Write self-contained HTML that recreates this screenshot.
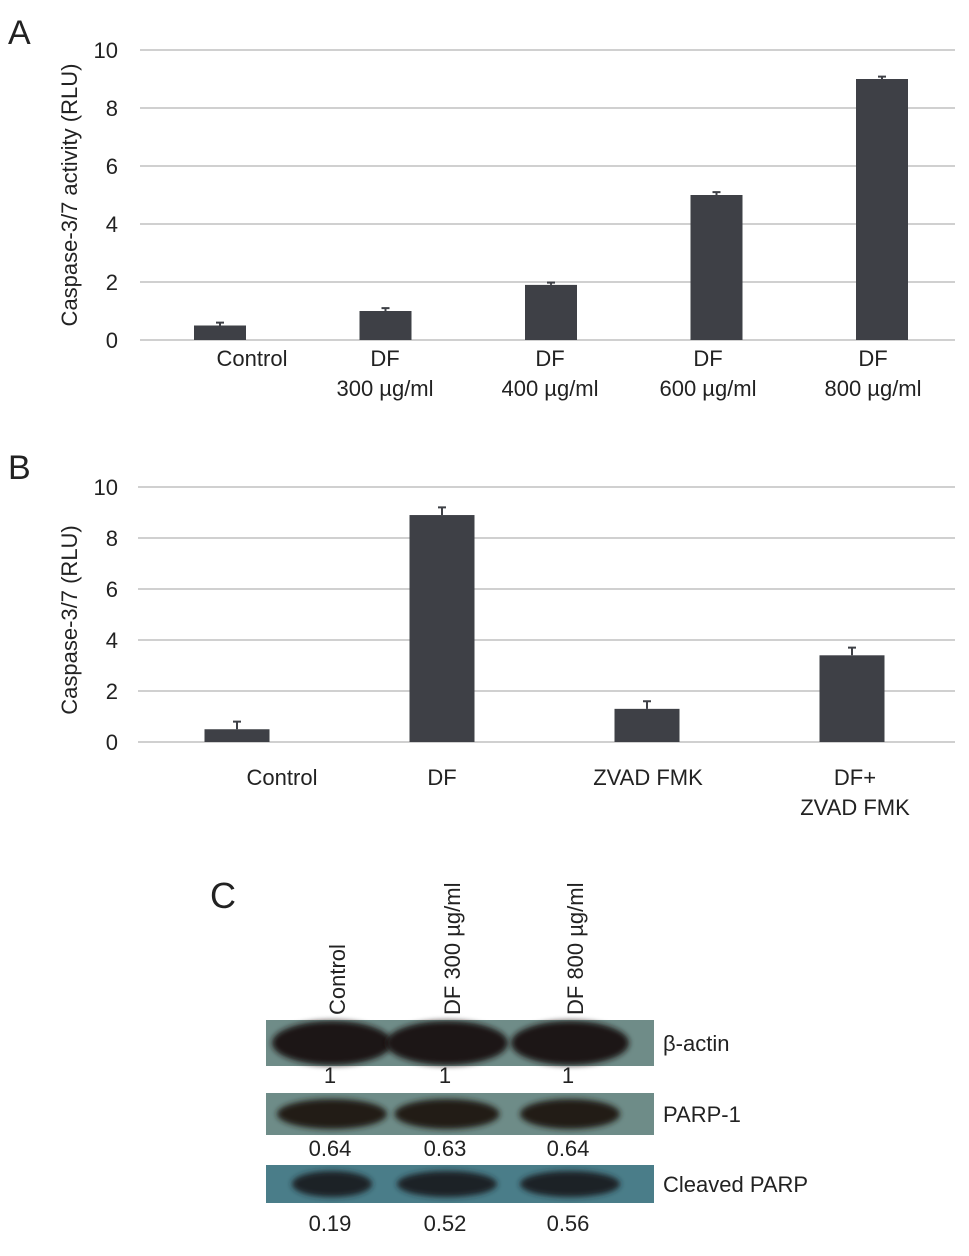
<!DOCTYPE html>
<html><head><meta charset="utf-8"><style>
body{margin:0;background:#fff;}
svg text{font-family:"Liberation Sans",sans-serif;fill:#222;}
</style></head><body>
<svg id="fig" width="969" height="1251" xmlns="http://www.w3.org/2000/svg">
<defs>
<filter id="blur2" x="-20%" y="-50%" width="140%" height="200%"><feGaussianBlur stdDeviation="3"/></filter>
</defs>
<g id="panelA"></g>
<g id="panelB"></g>
<g id="panelC"></g>
</svg>
<script>
const NS="http://www.w3.org/2000/svg";
function mk(parent,tag,attrs,txt){const e=document.createElementNS(NS,tag);for(const k in attrs)e.setAttribute(k,attrs[k]);if(txt!==undefined)e.textContent=txt;parent.appendChild(e);return e;}

// Panel A data
const aCategories=["Control","DF 300 µg/ml","DF 400 µg/ml","DF 600 µg/ml","DF 800 µg/ml"];
const aValues=[0.5,1.0,1.9,5.0,9.0];
const aErrors=[0.1,0.1,0.08,0.1,0.08];
const aTicks=[0,2,4,6,8,10];
// Panel B data
const bCategories=["Control","DF","ZVAD FMK","DF+ ZVAD FMK"];
const bValues=[0.5,8.9,1.3,3.4];
const bErrors=[0.3,0.3,0.3,0.3];
const bTicks=[0,2,4,6,8,10];
// Panel C data
const cLanes=["Control","DF 300 µg/ml","DF 800 µg/ml"];
const cActin=[1,1,1];
const cParp=[0.64,0.63,0.64];
const cCleaved=[0.19,0.52,0.56];

function chart(g,o){
  const y=v=>o.y0-v*(o.y0-o.y10)/10;
  o.ticks.forEach(t=>{
    const l=mk(g,'line',{x1:o.gx0,x2:o.gx1,y1:y(t),y2:y(t),stroke:'#d0d0d0','stroke-width':2});
    
    
    const tx=mk(g,'text',{x:o.tickX,y:y(t)+8,'text-anchor':'end','font-size':22},String(t));
    
    
  });
  o.values.forEach((v,i)=>{
    const cx=o.bx0+i*o.bstep;
    const r=mk(g,'rect',{x:cx-o.bw/2,y:y(v),width:o.bw,height:y(0)-y(v),fill:'#3e4046'});
    
    
    const e=mk(g,'path',{d:`M${cx},${y(v)} V${y(v+o.errors[i])} M${cx-4},${y(v+o.errors[i])} H${cx+4}`,stroke:'#3e4046','stroke-width':2,fill:'none'});
    
    
  });
  const t=mk(g,'text',{transform:`translate(${o.titleX},${o.titleY}) rotate(-90)`,'text-anchor':'middle','font-size':22},o.title);
  
  
  o.labels.forEach(lb=>{
    lb.lines.forEach((s,j)=>{
      const x=mk(g,'text',{x:lb.x,y:o.labY+j*30,'text-anchor':'middle','font-size':22},s);
      
      
    });
  });
  const L=mk(g,'text',{x:o.letterX,y:o.letterY,'font-size':34},o.letter);
  
  
}
chart(document.getElementById('panelA'),{y0:340,y10:50,gx0:140,gx1:955,ticks:aTicks,values:aValues,errors:aErrors,
 bx0:220,bstep:165.5,bw:52,tickX:118,title:'Caspase-3/7 activity (RLU)',titleX:77,titleY:195,labY:366,
 labels:[{x:252,lines:['Control']},{x:385,lines:['DF','300 µg/ml']},{x:550,lines:['DF','400 µg/ml']},{x:708,lines:['DF','600 µg/ml']},{x:873,lines:['DF','800 µg/ml']}],
 letter:'A',letterX:8,letterY:44});
chart(document.getElementById('panelB'),{y0:742,y10:487,gx0:138,gx1:955,ticks:bTicks,values:bValues,errors:bErrors,
 bx0:237,bstep:205,bw:65,tickX:118,title:'Caspase-3/7 (RLU)',titleX:77,titleY:620,labY:785,
 labels:[{x:282,lines:['Control']},{x:442,lines:['DF']},{x:648,lines:['ZVAD FMK']},{x:855,lines:['DF+','ZVAD FMK']}],
 letter:'B',letterX:8,letterY:479});

// Panel C
const gc=document.getElementById('panelC');
const laneX=[337,452,575];
const C=mk(gc,'text',{x:210,y:908,'font-size':36},'C');


cLanes.forEach((s,i)=>{
  const t=mk(gc,'text',{transform:`translate(${laneX[i]+8},1015) rotate(-90)`,'font-size':22},s);
  
  
});
const strips=[
 {name:'β-actin',y:1020,h:46,bg:'#6f8c88',band:'#1e1612',bh:44,vals:cActin,ly:1083,bw:[120,122,118]},
 {name:'PARP-1',y:1093,h:42,bg:'#6e8c88',band:'#231a16',bh:30,vals:cParp,ly:1156,bw:[110,105,100]},
 {name:'Cleaved PARP',y:1165,h:38,bg:'#4a7d89',band:'#1f2226',bh:26,vals:cCleaved,ly:1231,bw:[80,100,100]}
];
strips.forEach(s=>{
  const r=mk(gc,'rect',{x:266,y:s.y,width:388,height:s.h,fill:s.bg});
  
  
  s.vals.forEach((v,i)=>{
    const b=mk(gc,'ellipse',{cx:laneX[i]-5,cy:s.y+s.h/2,rx:s.bw[i]/2,ry:s.bh/2,fill:s.band,filter:'url(#blur2)'});
    
    
    const t=mk(gc,'text',{x:laneX[i]-7,y:s.ly,'text-anchor':'middle','font-size':22},String(v));
    
    
  });
  const n=mk(gc,'text',{x:663,y:s.y+s.h/2+8,'font-size':22},s.name);
  
  
});
</script>
</body></html>
